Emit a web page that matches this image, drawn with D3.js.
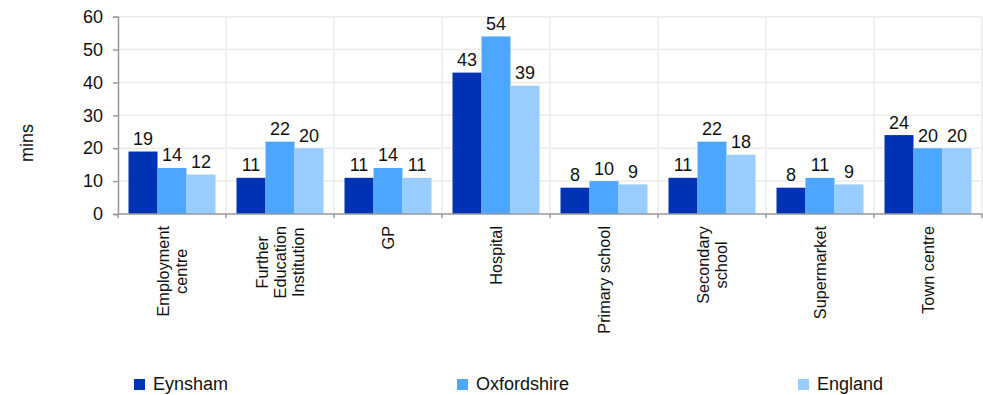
<!DOCTYPE html>
<html><head><meta charset="utf-8">
<script src="https://cdn.jsdelivr.net/npm/d3@7"></script>
<style>body{margin:0;background:#fff}svg{display:block;font-family:"Liberation Sans",Arial,sans-serif}</style>
</head><body><svg id="c" width="983" height="395"></svg>
<script>
const categories = ["Employment\ncentre","Further\nEducation\nInstitution","GP","Hospital","Primary school","Secondary\nschool","Supermarket","Town centre"];
const seriesNames = ["Eynsham","Oxfordshire","England"];
const eynsham = [19,11,11,43,8,11,8,24];
const oxfordshire = [14,22,14,54,10,22,11,20];
const england = [12,20,11,39,9,18,9,20];
const yTicks = [0,10,20,30,40,50,60];
const colors = ["#0033b4","#4da6ff","#99ccff"];
const seriesVals = [eynsham, oxfordshire, england];

const svg = d3.select("#c");
const L=118, R=982, T=16.7, B=214;
const x = d3.scaleBand().domain(categories).range([L,R]).paddingInner(0).paddingOuter(0);
const xs = d3.scaleBand().domain(seriesNames).range([10.5, x.bandwidth()-10.5]).padding(0);
const y = d3.scaleLinear().domain([0,60]).range([B,T]);

// grid
const g = svg.append("g");
g.selectAll(".h").data(yTicks.slice(1)).join("line")
 .attr("x1",L).attr("x2",R).attr("y1",d=>y(d)).attr("y2",d=>y(d))
 .attr("stroke","#ebebeb").attr("stroke-width",1.5);
g.selectAll(".v").data(categories.slice(1).concat(["end"])).join("line")
 .attr("x1",(d,i)=>L+(i+1)*x.bandwidth()).attr("x2",(d,i)=>L+(i+1)*x.bandwidth())
 .attr("y1",T).attr("y2",B).attr("stroke","#ebebeb").attr("stroke-width",1.5);

// bars
categories.forEach((c,ci)=>{
  seriesNames.forEach((s,si)=>{
    const v = seriesVals[si][ci];
    svg.append("rect").attr("x",x(c)+xs(s)).attr("width",xs.bandwidth())
      .attr("y",y(v)).attr("height",B-y(v)).attr("fill",colors[si]);
    svg.append("text").attr("x",x(c)+xs(s)+xs.bandwidth()/2).attr("y",y(v)-6.5)
      .attr("text-anchor","middle").attr("font-size",18).attr("fill","#111").text(v);
  });
});

// y axis
const ya = svg.append("g").attr("transform",`translate(${L},0)`)
  .call(d3.axisLeft(y).tickValues(yTicks).tickSize(5).tickPadding(10));
ya.select(".domain").attr("stroke","#999").attr("stroke-width",1.5);
ya.selectAll(".tick line").attr("stroke","#999").attr("stroke-width",1.5);
ya.selectAll(".tick text").attr("font-size",18).attr("fill","#111").attr("font-family","Liberation Sans, Arial, sans-serif");

// x axis
svg.append("line").attr("x1",L).attr("x2",R).attr("y1",B).attr("y2",B).attr("stroke","#999").attr("stroke-width",1.5);
svg.selectAll(".xt").data(d3.range(categories.length+1)).join("line")
 .attr("x1",i=>L+i*x.bandwidth()).attr("x2",i=>L+i*x.bandwidth())
 .attr("y1",B).attr("y2",B+4).attr("stroke","#999").attr("stroke-width",1.5);

categories.forEach(c=>{
  const lines = c.split("\n");
  const cx = x(c)+x.bandwidth()/2;
  const tg = svg.append("g");
  const texts = lines.map((ln,i)=>tg.append("text").attr("font-size",16.3).attr("fill","#111")
     .attr("text-anchor","middle").text(ln));
  const maxW = d3.max(texts, t=>t.node().getComputedTextLength());
  const yc = 226 + maxW/2;
  texts.forEach((t,i)=>{
    const off = (i-(lines.length-1)/2)*18;
    t.attr("transform",`translate(${cx+off},${yc}) rotate(-90)`).attr("dy","0.35em");
  });
});

// y title
svg.append("text").attr("transform","translate(27,143) rotate(-90)").attr("text-anchor","middle")
 .attr("dy","0.35em").attr("font-size",18).attr("fill","#111").text("mins");

// legend
const legX = [134,457,798];
seriesNames.forEach((s,i)=>{
  svg.append("rect").attr("x",legX[i]).attr("y",379).attr("width",11).attr("height",11).attr("fill",colors[i]);
  svg.append("text").attr("x",legX[i]+19).attr("y",390).attr("font-size",18).attr("fill","#111").text(s);
});
</script></body></html>
